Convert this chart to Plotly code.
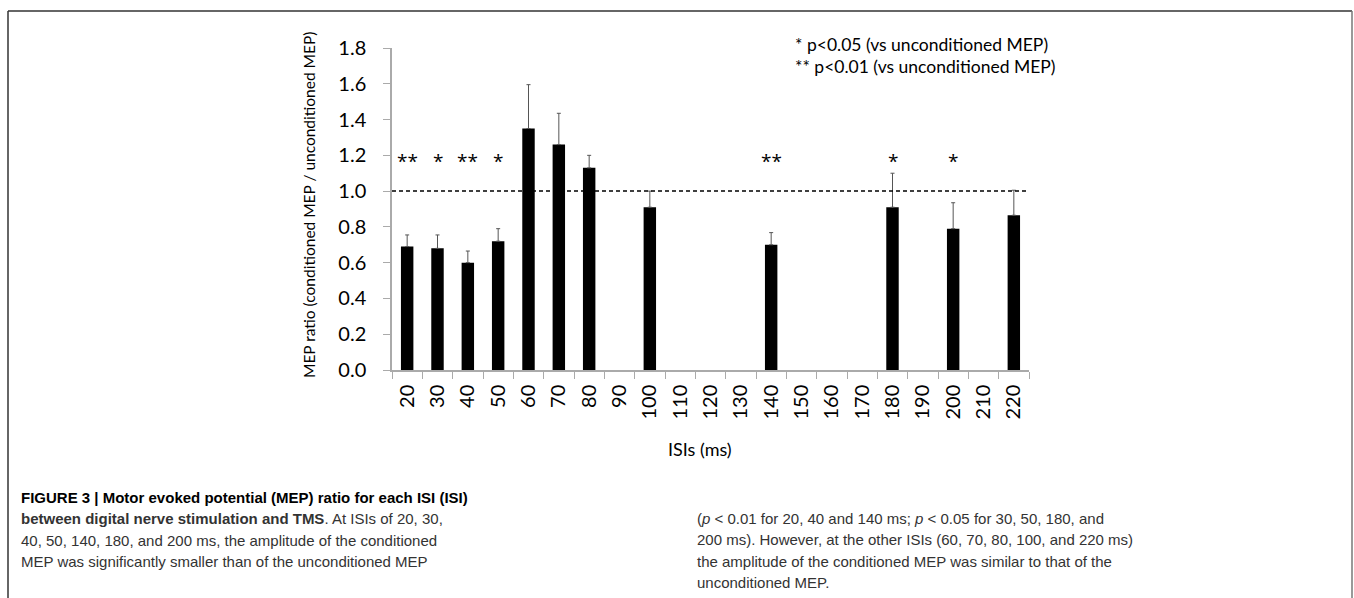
import plotly.graph_objects as go

isi_labels = ["20", "30", "40", "50", "60", "70", "80", "90", "100", "110", "120",
              "130", "140", "150", "160", "170", "180", "190", "200", "210", "220"]
mep_ratio = [0.69, 0.68, 0.60, 0.72, 1.35, 1.26, 1.13, None, 0.91, None, None,
             None, 0.70, None, None, None, 0.91, None, 0.79, None, 0.865]
err_plus = [0.065, 0.075, 0.065, 0.07, 0.245, 0.175, 0.07, None, 0.09, None, None,
            None, 0.068, None, None, None, 0.19, None, 0.145, None, 0.14]
sig_marks = {"20": "**", "30": "*", "40": "**", "50": "*", "140": "**", "180": "*", "200": "*"}
legend_lines = ["* p<0.05 (vs unconditioned MEP)", "** p<0.01 (vs unconditioned MEP)"]

W, H = 1354, 598
L, R, T, B = 392, 1029, 48, 370
pw, ph = R - L, B - T


def px(x):
    return (x - L) / pw


def py(y):
    return (B - y) / ph


FONT = "Lato, Open Sans, sans-serif"
CAP = "Liberation Sans Narrow, Liberation Sans, Arial, sans-serif"

fig = go.Figure()
fig.add_trace(go.Bar(
    x=isi_labels, y=mep_ratio,
    marker=dict(color="black", line=dict(width=0)),
    width=0.41,
    error_y=dict(type="data", array=err_plus, arrayminus=[0] * len(err_plus),
                 symmetric=False, color="#555555", thickness=1, width=2),
    showlegend=False,
))

shapes = [
    dict(type="line", xref="paper", yref="y", x0=0, x1=0.998, y0=1.0, y1=1.0,
         line=dict(color="black", width=1.5, dash="4px,3px")),
    # figure frame
    dict(type="line", xref="paper", yref="paper", x0=px(8), x1=px(1352), y0=py(11), y1=py(11),
         line=dict(color="#333333", width=1.5)),
    dict(type="line", xref="paper", yref="paper", x0=px(8), x1=px(8), y0=py(11), y1=py(605),
         line=dict(color="#333333", width=1.5)),
    dict(type="line", xref="paper", yref="paper", x0=px(1352), x1=px(1352), y0=py(11), y1=py(605),
         line=dict(color="#777777", width=1.5)),
]

annotations = []
for k, v in sig_marks.items():
    annotations.append(dict(x=isi_labels.index(k), y=1.17, xref="x", yref="y", text=v,
                            showarrow=False, xanchor="center", yanchor="middle",
                            font=dict(family="Open Sans, sans-serif", size=19, color="black")))

for i, line in enumerate(legend_lines):
    annotations.append(dict(x=px(793), y=py(45 + 22 * i), xref="paper", yref="paper",
                            xanchor="left", yanchor="middle", showarrow=False, text=line,
                            font=dict(family=FONT, size=17.5, color="black")))

annotations.append(dict(x=px(309), y=py(205), xref="paper", yref="paper", textangle=-90,
                        xanchor="center", yanchor="middle",
                        text="MEP ratio (conditioned MEP / unconditioned MEP)", showarrow=False,
                        font=dict(family=FONT, size=15.5, color="black")))
annotations.append(dict(x=px(700), y=py(449), xref="paper", yref="paper",
                        xanchor="center", yanchor="middle",
                        text="ISIs (ms)", showarrow=False,
                        font=dict(family=FONT, size=18, color="black")))

cap_left = ["<b>FIGURE 3 | Motor evoked potential (MEP) ratio for each ISI (ISI)</b>",
            "<b>between digital nerve stimulation and TMS</b>. At ISIs of 20, 30,",
            "40, 50, 140, 180, and 200 ms, the amplitude of the conditioned",
            "MEP was significantly smaller than of the unconditioned MEP"]
cap_right = ["(<i>p</i> &lt; 0.01 for 20, 40 and 140 ms; <i>p</i> &lt; 0.05 for 30, 50, 180, and",
             "200 ms). However, at the other ISIs (60, 70, 80, 100, and 220 ms)",
             "the amplitude of the conditioned MEP was similar to that of the",
             "unconditioned MEP."]
for i, line in enumerate(cap_left):
    annotations.append(dict(x=px(19), y=py(497 + 21.5 * i), xref="paper", yref="paper",
                            xanchor="left", yanchor="middle", showarrow=False, text=line,
                            font=dict(family=CAP, size=15,
                                      color="black" if i == 0 else "#333333")))
for i, line in enumerate(cap_right):
    annotations.append(dict(x=px(695), y=py(518 + 21.5 * i), xref="paper", yref="paper",
                            xanchor="left", yanchor="middle", showarrow=False, text=line,
                            font=dict(family=CAP, size=15, color="#333333")))

fig.update_layout(
    width=W, height=H,
    margin=dict(l=L, r=W - R, t=T, b=H - B, pad=0),
    plot_bgcolor="white", paper_bgcolor="white",
    bargap=0.59,
    shapes=shapes, annotations=annotations,
    xaxis=dict(type="category", categoryorder="array", categoryarray=isi_labels,
               tickson="boundaries", ticks="outside", ticklen=7, tickcolor="#aaaaaa",
               showline=True, linecolor="#aaaaaa", linewidth=1.5, showgrid=False,
               tickangle=-90, ticklabelstandoff=5,
               tickfont=dict(family=FONT, size=20, color="black"),
               range=[-0.5, 20.5], fixedrange=True),
    yaxis=dict(range=[0, 1.8], dtick=0.2, tickformat=".1f", ticks="outside", ticklen=7,
               tickcolor="#aaaaaa", showline=True, linecolor="#aaaaaa", linewidth=1.5,
               showgrid=False, zeroline=False, ticklabelstandoff=13,
               tickfont=dict(family=FONT, size=20, color="black")),
)

fig.write_html("out.html")
